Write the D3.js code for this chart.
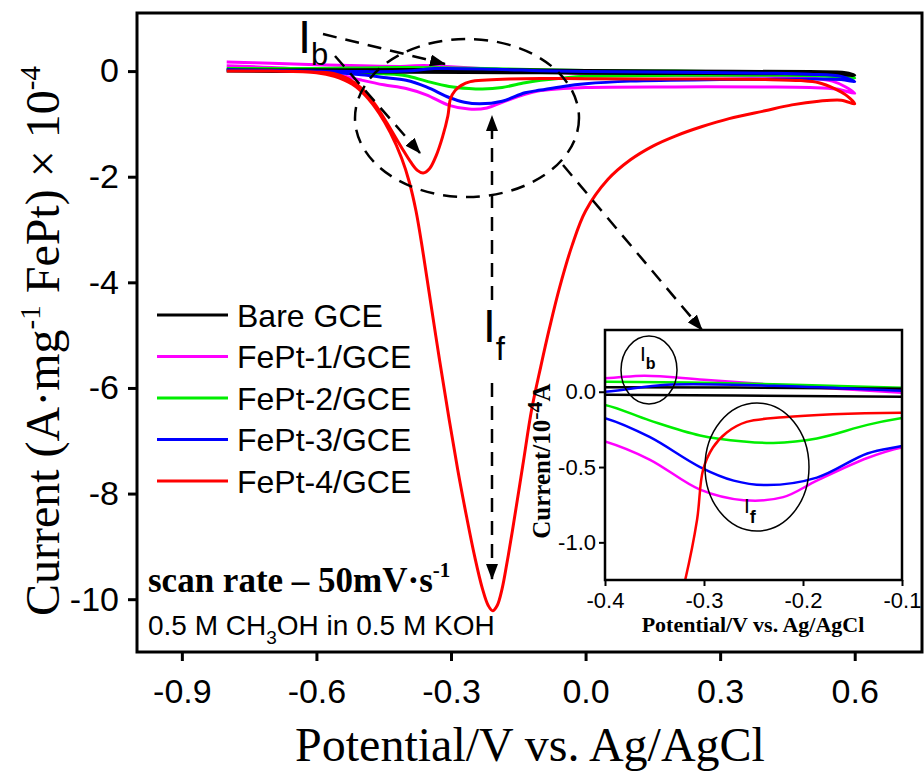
<!DOCTYPE html>
<html>
<head>
<meta charset="utf-8">
<script src="https://cdn.jsdelivr.net/npm/d3@7/dist/d3.min.js"></script>
<style>
body { margin: 0; background: #fff; }
</style>
</head>
<body>
<script>
// tick labels
var potentialTicks = [-0.9, -0.6, -0.3, 0.0, 0.3, 0.6];
var currentTicks = [0, -2, -4, -6, -8, -10];
var insetPotentialTicks = [-0.4, -0.3, -0.2, -0.1];
var insetCurrentTicks = [0.0, -0.5, -1.0];

var seriesNames = ["Bare GCE", "FePt-1/GCE", "FePt-2/GCE", "FePt-3/GCE", "FePt-4/GCE"];

// each CV loop: [potential V, current]  forward -0.8 -> 0.6 then reverse back
var bareGCE = [[-0.8,0.0],[-0.6,-0.01],[-0.4,-0.02],[-0.1,-0.033],[0.0,-0.04],[0.2,-0.045],[0.4,-0.05],[0.55,-0.06],[0.6,-0.08],
               [0.58,-0.03],[0.5,-0.01],[0.2,0.0],[0.0,0.01],[-0.1,0.02],[-0.4,0.03],[-0.6,0.025],[-0.8,0.02]];
var fept1 = [[-0.8,0.1],[-0.7,0.07],[-0.6,0.01],[-0.55,-0.07],[-0.5,-0.17],[-0.45,-0.26],[-0.4,-0.33],[-0.355,-0.45],[-0.304,-0.65],
             [-0.26,-0.72],[-0.22,-0.7],[-0.186,-0.59],[-0.135,-0.44],[-0.1,-0.37],[-0.05,-0.33],[0.0,-0.31],[0.2,-0.3],[0.4,-0.3],
             [0.5,-0.31],[0.56,-0.34],[0.6,-0.42],
             [0.58,-0.3],[0.55,-0.19],[0.5,-0.13],[0.4,-0.1],[0.2,-0.08],[0.0,-0.05],[-0.1,-0.007],[-0.2,0.033],[-0.3,0.08],
             [-0.36,0.107],[-0.4,0.09],[-0.5,0.1],[-0.6,0.12],[-0.7,0.15],[-0.8,0.17]];
var fept2 = [[-0.8,0.04],[-0.7,0.02],[-0.6,0.0],[-0.5,-0.03],[-0.45,-0.05],[-0.4,-0.087],[-0.355,-0.19],[-0.304,-0.29],[-0.26,-0.33],
             [-0.23,-0.34],[-0.186,-0.31],[-0.135,-0.22],[-0.1,-0.175],[-0.05,-0.13],[0.0,-0.1],[0.2,-0.08],[0.4,-0.08],[0.52,-0.09],[0.6,-0.13],
             [0.57,-0.07],[0.5,-0.03],[0.4,-0.02],[0.2,0.0],[0.0,0.01],[-0.1,0.027],[-0.2,0.045],[-0.3,0.06],[-0.4,0.067],[-0.5,0.06],
             [-0.6,0.05],[-0.8,0.05]];
var fept3 = [[-0.8,0.02],[-0.7,0.01],[-0.6,-0.01],[-0.5,-0.07],[-0.45,-0.12],[-0.4,-0.175],[-0.355,-0.3],[-0.304,-0.5],[-0.27,-0.59],
             [-0.236,-0.62],[-0.186,-0.57],[-0.135,-0.41],[-0.1,-0.36],[-0.05,-0.29],[0.0,-0.24],[0.1,-0.19],[0.3,-0.16],[0.5,-0.15],
             [0.57,-0.16],[0.6,-0.2],
             [0.57,-0.1],[0.5,-0.06],[0.4,-0.04],[0.2,-0.02],[0.0,-0.01],[-0.1,0.007],[-0.2,0.033],[-0.337,0.047],[-0.4,0.0],
             [-0.5,-0.01],[-0.6,0.0],[-0.8,0.02]];
var fept4 = [[-0.8,0.0],[-0.7,0.0],[-0.6,-0.03],[-0.56,-0.1],[-0.52,-0.25],[-0.49,-0.47],[-0.46,-0.8],[-0.435,-1.17],[-0.41,-1.65],
             [-0.393,-2.1],[-0.378,-2.65],[-0.363,-3.4],[-0.345,-4.4],[-0.325,-5.5],[-0.305,-6.55],[-0.285,-7.55],[-0.265,-8.45],
             [-0.247,-9.2],[-0.23,-9.8],[-0.217,-10.12],[-0.207,-10.22],[-0.197,-10.12],[-0.186,-9.8],[-0.175,-9.3],[-0.163,-8.7],
             [-0.14,-7.47],[-0.12,-6.4],[-0.1,-5.6],[-0.08,-4.85],[-0.058,-4.1],[-0.03,-3.3],[0.0,-2.65],[0.05,-2.05],[0.1,-1.68],
             [0.15,-1.42],[0.2,-1.23],[0.26,-1.05],[0.32,-0.9],[0.4,-0.75],[0.46,-0.64],[0.52,-0.57],[0.57,-0.55],[0.6,-0.62],
             [0.58,-0.45],[0.555,-0.33],[0.52,-0.22],[0.48,-0.18],[0.4,-0.16],[0.2,-0.15],[0.0,-0.145],[-0.1,-0.14],[-0.17,-0.15],
             [-0.22,-0.17],[-0.257,-0.2],[-0.277,-0.27],[-0.291,-0.37],[-0.301,-0.52],[-0.307,-0.85],[-0.319,-1.25],[-0.333,-1.6],
             [-0.348,-1.85],[-0.362,-1.93],[-0.375,-1.88],[-0.39,-1.72],[-0.41,-1.45],[-0.443,-0.98],[-0.47,-0.62],[-0.5,-0.32],
             [-0.53,-0.14],[-0.56,-0.05],[-0.6,-0.02],[-0.7,0.0],[-0.8,0.0]];

var seriesData = [bareGCE, fept1, fept2, fept3, fept4];
var colors = ["#000000", "#ff00ff", "#00ee00", "#0000ff", "#ff0000"];
var drawOrder = [1, 2, 0, 3, 4];

var sans = "Arial, 'Liberation Sans', sans-serif";
var serif = "'Times New Roman', 'Liberation Serif', serif";

var svg = d3.select("body")
            .append("svg")
            .attr("width", 924)
            .attr("height", 772);

var defs = svg.append("defs");
defs.append("marker")
    .attr("id", "head")
    .attr("markerUnits", "userSpaceOnUse")
    .attr("markerWidth", 16)
    .attr("markerHeight", 12)
    .attr("refX", 15)
    .attr("refY", 6)
    .attr("orient", "auto")
  .append("path")
    .attr("d", "M0,0 L16,6 L0,12 z")
    .attr("fill", "#000");

// main plot
var x = d3.scaleLinear().domain([-1.0, 0.75]).range([137, 922]);
var y = d3.scaleLinear().domain([-11, 1.1]).range([652, 13]);

var line = d3.line()
             .x(function(d) { return x(d[0]); })
             .y(function(d) { return y(d[1]); })
             .curve(d3.curveCatmullRom.alpha(0.5));

function minus(s) { return s.replace("\u2212", "-"); }

var xAxis = svg.append("g")
               .attr("transform", "translate(0,652)")
               .call(d3.axisBottom(x).tickValues(potentialTicks).tickSize(9).tickPadding(18)
                       .tickFormat(function(d) { return minus(d3.format(".1f")(d)); }));
var yAxis = svg.append("g")
               .attr("transform", "translate(137,0)")
               .call(d3.axisLeft(y).tickValues(currentTicks).tickSize(9).tickPadding(9)
                       .tickFormat(function(d) { return minus(d3.format("d")(d)); }));

[xAxis, yAxis].forEach(function(a) {
  a.select(".domain").remove();
  a.selectAll(".tick line").attr("stroke", "#000").attr("stroke-width", 3);
  a.selectAll(".tick text").attr("fill", "#000").style("font-family", sans).style("font-size", "34px");
});

var curves = svg.append("g").attr("id", "curves");
drawOrder.forEach(function(i) {
  curves.append("path")
        .attr("d", line(seriesData[i]))
        .attr("fill", "none")
        .attr("stroke", colors[i])
        .attr("stroke-width", 3)
        .attr("stroke-linejoin", "round");
});

svg.append("rect")
   .attr("x", 137).attr("y", 13)
   .attr("width", 785).attr("height", 639)
   .attr("fill", "none")
   .attr("stroke", "#000")
   .attr("stroke-width", 3);

// axis titles
var yTitle = svg.append("text")
                .attr("transform", "translate(59,341) rotate(-90)")
                .attr("text-anchor", "middle")
                .style("font-family", serif)
                .style("font-size", "48px");
yTitle.append("tspan").text("Current (A\u00b7mg");
yTitle.append("tspan").attr("dy", -19).style("font-size", "29px").text("-1");
yTitle.append("tspan").attr("dy", 19).text(" FePt) \u00d7 10");
yTitle.append("tspan").attr("dy", -19).style("font-size", "29px").text("-4");

svg.append("text")
   .attr("x", 530).attr("y", 761)
   .attr("text-anchor", "middle")
   .style("font-family", serif)
   .style("font-size", "48px")
   .text("Potential/V vs. Ag/AgCl");

// legend
var legend = svg.append("g").attr("id", "legend");
seriesNames.forEach(function(name, i) {
  var ly = 315 + i * 41.5;
  legend.append("line")
        .attr("x1", 157).attr("x2", 228)
        .attr("y1", ly).attr("y2", ly)
        .attr("stroke", colors[i])
        .attr("stroke-width", 3);
  legend.append("text")
        .attr("x", 237).attr("y", ly + 11.5)
        .style("font-family", sans)
        .style("font-size", "32px")
        .text(name);
});

// conditions
var scan = svg.append("text")
              .attr("x", 148).attr("y", 592)
              .style("font-family", serif)
              .style("font-weight", "bold")
              .style("font-size", "35px");
scan.append("tspan").text("scan rate \u2013 50mV\u00b7s");
scan.append("tspan").attr("dy", -15).style("font-size", "21px").text("-1");

var soln = svg.append("text")
              .attr("x", 148).attr("y", 635)
              .style("font-family", sans)
              .style("font-size", "28px");
soln.append("tspan").text("0.5 M CH");
soln.append("tspan").attr("dy", 9).style("font-size", "19px").text("3");
soln.append("tspan").attr("dy", -9).text("OH in 0.5 M KOH");

// dashed annotations
var notes = svg.append("g")
               .attr("fill", "none")
               .attr("stroke", "#000")
               .attr("stroke-width", 2.5)
               .attr("stroke-dasharray", "14,9");
notes.append("ellipse").attr("cx", 467).attr("cy", 118).attr("rx", 112).attr("ry", 79);
notes.append("line").attr("x1", 323).attr("y1", 34).attr("x2", 445).attr("y2", 64).attr("marker-end", "url(#head)");
notes.append("line").attr("x1", 335).attr("y1", 56).attr("x2", 420).attr("y2", 153).attr("marker-end", "url(#head)");
notes.append("line").attr("x1", 492).attr("y1", 300).attr("x2", 492).attr("y2", 116).attr("marker-end", "url(#head)");
notes.append("line").attr("x1", 492).attr("y1", 383).attr("x2", 492).attr("y2", 579).attr("marker-end", "url(#head)");
notes.append("line").attr("x1", 563).attr("y1", 165).attr("x2", 702).attr("y2", 330).attr("marker-end", "url(#head)");

var ib = svg.append("text").attr("x", 298).attr("y", 53).style("font-family", sans).style("font-size", "47px");
ib.append("tspan").text("I");
ib.append("tspan").attr("dy", 12).style("font-size", "31px").text("b");
var iF = svg.append("text").attr("x", 483).attr("y", 342).style("font-family", sans).style("font-size", "46px");
iF.append("tspan").text("I");
iF.append("tspan").attr("dy", 18).style("font-size", "33px").text("f");

// inset
var ix = d3.scaleLinear().domain([-0.4, -0.1]).range([605, 902]);
var iy = d3.scaleLinear().domain([-1.25, 0.41]).range([580, 330]);

var inset = svg.append("g").attr("id", "inset");
inset.append("rect")
     .attr("x", 605).attr("y", 330)
     .attr("width", 297).attr("height", 250)
     .attr("fill", "#fff");

defs.append("clipPath").attr("id", "insetClip")
    .append("rect").attr("x", 605).attr("y", 330).attr("width", 297).attr("height", 250);

var iline = d3.line()
              .x(function(d) { return ix(d[0]); })
              .y(function(d) { return iy(d[1]); })
              .curve(d3.curveCatmullRom.alpha(0.5));

var icurves = inset.append("g").attr("clip-path", "url(#insetClip)");
drawOrder.forEach(function(i) {
  icurves.append("path")
         .attr("d", iline(seriesData[i]))
         .attr("fill", "none")
         .attr("stroke", colors[i])
         .attr("stroke-width", 2.5);
});

var ixAxis = inset.append("g")
                  .attr("transform", "translate(0,580)")
                  .call(d3.axisBottom(ix).tickValues(insetPotentialTicks).tickSize(6).tickPadding(6)
                          .tickFormat(function(d) { return minus(d3.format(".1f")(d)); }));
var iyAxis = inset.append("g")
                  .attr("transform", "translate(605,0)")
                  .call(d3.axisLeft(iy).tickValues(insetCurrentTicks).tickSize(6).tickPadding(3)
                          .tickFormat(function(d) { return minus(d3.format(".1f")(d)); }));
[ixAxis, iyAxis].forEach(function(a) {
  a.select(".domain").remove();
  a.selectAll(".tick line").attr("stroke", "#000").attr("stroke-width", 2);
  a.selectAll(".tick text").attr("fill", "#000").style("font-family", sans).style("font-size", "22px");
});

inset.append("rect")
     .attr("x", 605).attr("y", 330)
     .attr("width", 297).attr("height", 250)
     .attr("fill", "none")
     .attr("stroke", "#000")
     .attr("stroke-width", 2.5);

inset.append("text")
     .attr("x", 753).attr("y", 632)
     .attr("text-anchor", "middle")
     .style("font-family", serif)
     .style("font-weight", "bold")
     .style("font-size", "22px")
     .text("Potential/V vs. Ag/AgCl");

var iyTitle = inset.append("text")
                   .attr("transform", "translate(550,461) rotate(-90)")
                   .attr("text-anchor", "middle")
                   .style("font-family", serif)
                   .style("font-weight", "bold")
                   .style("font-size", "25px");
iyTitle.append("tspan").text("Current/10");
iyTitle.append("tspan").attr("dy", -8).style("font-size", "22px").text("-4");
iyTitle.append("tspan").attr("dy", 8).text("A");

inset.append("ellipse").attr("cx", 649).attr("cy", 370).attr("rx", 28).attr("ry", 34)
     .attr("fill", "none").attr("stroke", "#000").attr("stroke-width", 1.5);
inset.append("ellipse").attr("cx", 757).attr("cy", 467).attr("rx", 52).attr("ry", 64)
     .attr("fill", "none").attr("stroke", "#000").attr("stroke-width", 1.5);

var iib = inset.append("text").attr("x", 640).attr("y", 361).style("font-family", sans).style("font-size", "21px");
iib.append("tspan").text("I");
iib.append("tspan").attr("dy", 8).style("font-weight", "bold").style("font-size", "16px").text("b");
var iif = inset.append("text").attr("x", 744).attr("y", 513).style("font-family", sans).style("font-size", "21px");
iif.append("tspan").text("I");
iif.append("tspan").attr("dy", 10).style("font-weight", "bold").style("font-size", "18px").text("f");
</script>
</body>
</html>
